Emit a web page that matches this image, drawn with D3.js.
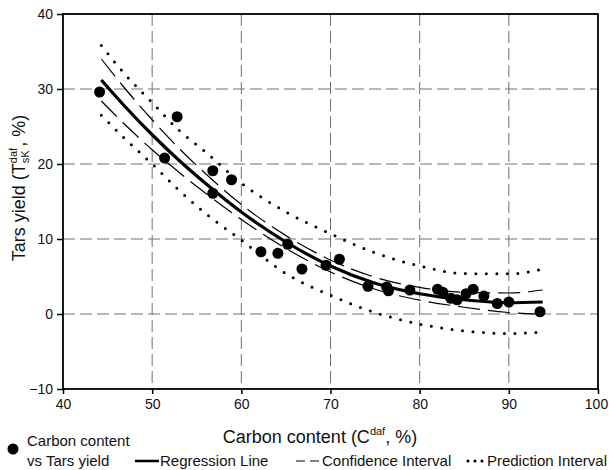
<!DOCTYPE html>
<html>
<head>
<meta charset="utf-8">
<script src="https://cdn.jsdelivr.net/npm/d3@7"></script>
<style>
  body { margin: 0; background: #fff; }
  svg { display: block; }
  text { font-family: "Liberation Sans", Arial, sans-serif; fill: #111; }
</style>
</head>
<body>
<svg id="chart"></svg>
<script>
// measured points: carbon content (Cdaf, %) vs tars yield (%)
const carbon = [44.1, 51.4, 52.8, 56.8, 56.8, 58.9, 62.2, 64.1, 65.2, 66.8, 69.5, 71.0, 74.2, 76.3, 76.5,
                78.9, 82.0, 82.6, 83.5, 84.2, 85.2, 86.0, 87.2, 88.7, 90.0, 93.5];
const tars   = [29.6, 20.8, 26.3, 19.1, 16.1, 17.9, 8.3, 8.1, 9.3, 6.0, 6.5, 7.3, 3.7, 3.6, 3.1,
                3.2, 3.3, 2.9, 2.1, 1.9, 2.7, 3.3, 2.4, 1.4, 1.6, 0.3];

// fitted curves
const fitX     = [44.3, 47, 50, 53, 56, 60, 65, 70, 75, 80, 85, 90, 93.8];
const regY     = [31.2, 27.6, 23.9, 20.5, 17.4, 13.6, 9.6, 6.4, 4.1, 2.7, 1.9, 1.5, 1.6];
const ciUpper  = [34.0, 30.0, 25.9, 22.1, 18.7, 14.6, 10.45, 7.2, 4.9, 3.55, 2.9, 2.8, 3.2];
const ciLower  = [28.4, 25.2, 21.9, 18.9, 16.1, 12.6, 8.75, 5.6, 3.3, 1.85, 0.9, 0.2, 0.0];
const piUpper  = [35.8, 31.9, 28.2, 24.5, 21.6, 17.45, 13.6, 10.7, 8.15, 6.4, 5.4, 5.35, 6.0];
const piLower  = [26.5, 23.3, 20.0, 16.5, 13.4, 9.85, 5.4, 2.5, 0.2, -1.35, -2.25, -2.6, -2.4];

const xTicks = [40, 50, 60, 70, 80, 90, 100];
const yTicks = [-10, 0, 10, 20, 30, 40];

const width = 609, height = 470;
const svg = d3.select("#chart").attr("width", width).attr("height", height);

const x = d3.scaleLinear().domain([40, 100]).range([63, 598]);
const y = d3.scaleLinear().domain([-10, 40]).range([389, 14]);

// grid
const grid = svg.append("g").attr("stroke", "#707070").attr("stroke-width", 1).attr("stroke-dasharray", "12,5");
xTicks.slice(1, -1).forEach(v => {
  grid.append("line").attr("x1", x(v)).attr("x2", x(v)).attr("y1", y(40)).attr("y2", y(-10));
});
yTicks.slice(1, -1).forEach(v => {
  grid.append("line").attr("x1", x(40)).attr("x2", x(100)).attr("y1", y(v)).attr("y2", y(v));
});

// axes
const yAxis = svg.append("g").attr("transform", `translate(${x(40)},0)`)
  .call(d3.axisLeft(y).tickValues(yTicks).tickSize(6).tickPadding(4));
const xAxis = svg.append("g").attr("transform", `translate(0,${y(-10)})`)
  .call(d3.axisBottom(x).tickValues(xTicks).tickSize(5).tickPadding(5));
[xAxis, yAxis].forEach(a => {
  a.select(".domain").remove();
  a.selectAll(".tick line").attr("stroke", "#000").attr("stroke-width", 1.5);
  a.selectAll(".tick text").attr("font-size", 14).attr("fill", "#111");
});
xAxis.selectAll(".tick text").filter(d => d === 100).attr("dx", -2);

// frame
svg.append("rect")
  .attr("x", x(40)).attr("y", y(40))
  .attr("width", x(100) - x(40)).attr("height", y(-10) - y(40))
  .attr("fill", "none").attr("stroke", "#000").attr("stroke-width", 1.8);

// curves
const line = d3.line().x(d => x(d[0])).y(d => y(d[1])).curve(d3.curveMonotoneX);
const pairs = arr => fitX.map((v, i) => [v, arr[i]]);

[piUpper, piLower].forEach(arr => {
  svg.append("path").attr("d", line(pairs(arr)))
    .attr("fill", "none").attr("stroke", "#000").attr("stroke-width", 3)
    .attr("stroke-linecap", "round").attr("stroke-dasharray", "0,10.5");
});
[ciUpper, ciLower].forEach(arr => {
  svg.append("path").attr("d", line(pairs(arr)))
    .attr("fill", "none").attr("stroke", "#000").attr("stroke-width", 1.2)
    .attr("stroke-dasharray", "22,8");
});
svg.append("path").attr("d", line(pairs(regY)))
  .attr("fill", "none").attr("stroke", "#000").attr("stroke-width", 3.2);

// points
svg.append("g").selectAll("circle")
  .data(carbon.map((c, i) => [c, tars[i]]))
  .join("circle")
  .attr("cx", d => x(d[0])).attr("cy", d => y(d[1]))
  .attr("r", 5.5).attr("fill", "#000");

// axis titles
const xt = svg.append("text").attr("x", 320).attr("y", 443)
  .attr("text-anchor", "middle").attr("font-size", 18);
xt.append("tspan").text("Carbon content (C");
xt.append("tspan").attr("dy", -8).attr("font-size", 11).text("daf");
xt.append("tspan").attr("dy", 8).text(", %)");

const yt = svg.append("text").attr("transform", "translate(25,188) rotate(-90)")
  .attr("text-anchor", "middle").attr("font-size", 18);
yt.append("tspan").text("Tars yield (T");
const sup = yt.append("tspan").attr("dy", -8).attr("font-size", 11).text("daf");
const supW = sup.node().getComputedTextLength();
const sub = yt.append("tspan").attr("dx", -supW).attr("dy", 12).attr("font-size", 11).text("sK");
const subW = sub.node().getComputedTextLength();
yt.append("tspan").attr("dx", Math.max(0, supW - subW) + 1).attr("dy", -4).text(", %)");

// legend
const lg = svg.append("g").attr("font-size", 15);
lg.append("circle").attr("cx", 13).attr("cy", 449).attr("r", 5.5).attr("fill", "#000");
lg.append("text").attr("x", 27).attr("y", 446).text("Carbon content");
lg.append("text").attr("x", 27).attr("y", 466).text("vs Tars yield");

lg.append("line").attr("x1", 135).attr("x2", 159).attr("y1", 461).attr("y2", 461)
  .attr("stroke", "#000").attr("stroke-width", 2.5);
lg.append("text").attr("x", 160).attr("y", 466).text("Regression Line");

lg.append("line").attr("x1", 296).attr("x2", 320).attr("y1", 461).attr("y2", 461)
  .attr("stroke", "#000").attr("stroke-width", 1.2).attr("stroke-dasharray", "9,5");
lg.append("text").attr("x", 322).attr("y", 466).text("Confidence Interval");

const pt = lg.append("text").attr("x", 607).attr("y", 466).attr("text-anchor", "end").text("Prediction Interval");
const ptStart = 607 - pt.node().getComputedTextLength();
lg.append("line").attr("x1", ptStart - 19).attr("x2", ptStart - 3).attr("y1", 461).attr("y2", 461)
  .attr("stroke", "#000").attr("stroke-width", 3).attr("stroke-linecap", "round")
  .attr("stroke-dasharray", "0,7");
</script>
</body>
</html>
